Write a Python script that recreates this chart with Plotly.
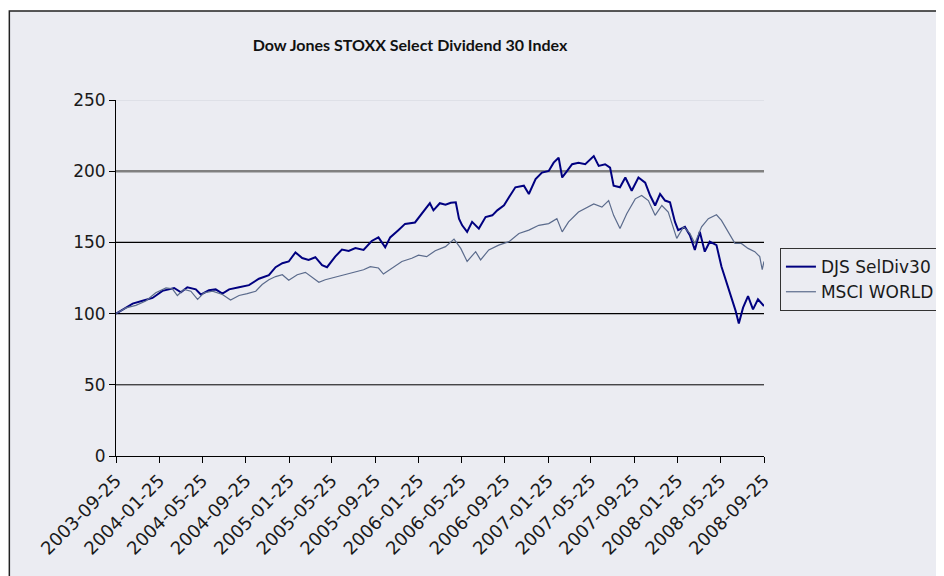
import pandas as pd
import plotly.graph_objects as go

# ---------------- data ----------------
start_date = "2003-09-25"

djs_days = [0, 19, 47, 75, 103, 131, 164, 183, 201, 225, 239, 262, 281, 300, 319, 347,
            375, 403, 431, 450, 469, 487, 506, 525, 543, 562, 581, 595, 618, 637, 656,
            675, 698, 721, 740, 759, 773, 796, 815, 843, 862, 885, 895, 913,
            929, 944, 958, 967, 976, 990, 1004, 1023, 1042, 1061, 1075, 1094, 1108,
            1126, 1150, 1164, 1183, 1201, 1220, 1234, 1248, 1258, 1272, 1286, 1304,
            1323, 1347, 1361, 1379, 1393, 1403, 1421, 1436, 1454, 1473, 1492, 1506,
            1520, 1534, 1548, 1562, 1576, 1585, 1604, 1618, 1632, 1646, 1660, 1674,
            1693, 1707, 1721, 1735, 1747, 1756, 1768, 1782, 1796, 1810, 1827]
djs_values = [100, 103, 107, 109, 111, 116, 118, 115, 118.5, 117, 113.4, 116.4, 117, 114,
              117, 118.5, 120, 124.5, 127, 132.6, 135.4, 136.6, 143, 139, 137.7, 139.6,
              134, 132.6, 140, 145, 144, 146, 144.7, 151, 153.5, 146.5, 153.5, 158.6,
              163, 164, 170, 177.5, 172.5, 177.5,
              176.4, 177.8, 178.2, 166.7, 162, 157.4, 164.4, 159.7, 167.8, 169, 172.5,
              176, 181.7, 188.7, 189.8, 184, 194.4, 199, 200.2, 206, 209.5, 195.6,
              200.2, 204.9, 206, 204.9, 210.6, 203.7, 204.9, 202.5, 189.8, 188.7,
              195.6, 186.3, 195.6, 192, 182.9, 175.9, 184, 179.4, 178.2, 164.4, 158.6,
              160.9, 155, 144.7, 157.4, 143.5, 150.5, 148.1, 133.1, 122.7, 111.1,
              101.9, 93, 104.2, 112.3, 103, 110, 105.3]

msci_days = [0, 28, 56, 84, 112, 141, 159, 173, 192, 211, 230, 248, 272, 300, 323, 347,
             370, 394, 412, 431, 450, 469, 487, 511, 534, 553, 572, 590, 618, 647, 675,
             698, 717, 740, 754, 778, 806, 834, 853, 876, 900,
             929, 953, 972, 990, 1014, 1028, 1051, 1079, 1108, 1136, 1164, 1192, 1220,
             1243, 1258, 1276, 1304, 1323, 1347, 1370, 1389, 1403, 1421, 1440, 1464,
             1482, 1501, 1520, 1539, 1557, 1581, 1600, 1618, 1632, 1651, 1670, 1693,
             1707, 1726, 1745, 1763, 1782, 1801, 1815, 1822, 1827]
msci_values = [100, 104, 105.8, 108.8, 114.6, 118, 117.4, 112.7, 117, 115.7, 110, 114.6,
               115.7, 113.4, 109.5, 112.7, 114, 115.7, 120.4, 123.8, 126, 127.3, 123.4,
               127.3, 129, 125.7, 122, 123.8, 125.7, 127.3, 129.6, 130.8, 133, 132,
               127.8, 132, 136.6, 138.9, 141, 140, 144.2,
               147, 152.3, 145.8, 136.6, 143.5, 137.7, 144.7, 148.1, 150.5, 156.3,
               158.6, 162, 163.2, 166.7, 157.4, 164.4, 171.3, 174, 177, 174.8, 179.4,
               169, 159.7, 170.1, 180.6, 182.9, 179.4, 169, 175.9, 171.3, 152.8, 160.9,
               156.3, 149.3, 160.9, 166.7, 169.4, 165.5, 157.4, 149.3, 149.3, 145.8,
               143.5, 140, 130.8, 136.6]

tick_dates = ["2003-09-25", "2004-01-25", "2004-05-25", "2004-09-25", "2005-01-25",
              "2005-05-25", "2005-09-25", "2006-01-25", "2006-05-25", "2006-09-25",
              "2007-01-25", "2007-05-25", "2007-09-25", "2008-01-25", "2008-05-25",
              "2008-09-25"]
y_ticks = [0, 50, 100, 150, 200, 250]
grid_colors = ["black", "black", "black", "black", "#808080", "#DADDE3"]
grid_widths = [1, 1, 1.2, 1.2, 2.5, 1.5]

series_names = ["DJS SelDiv30", "MSCI WORLD"]
title_text = "Dow Jones STOXX Select Dividend 30 Index"

# ---------------- build ----------------
t0 = pd.Timestamp(start_date)
djs_dates = [t0 + pd.Timedelta(days=d) for d in djs_days]
msci_dates = [t0 + pd.Timedelta(days=d) for d in msci_days]

FONT = "DejaVu Sans, Liberation Sans, sans-serif"

fig = go.Figure()
fig.add_trace(go.Scatter(x=djs_dates, y=djs_values, mode="lines", name=series_names[0],
                         line=dict(color="#000080", width=2)))
fig.add_trace(go.Scatter(x=msci_dates, y=msci_values, mode="lines", name=series_names[1],
                         line=dict(color="#5B6B8C", width=1.2)))

fig.update_layout(
    width=944, height=576,
    margin=dict(l=108, r=186, t=92, b=128),
    paper_bgcolor="white",
    plot_bgcolor="white",
    font=dict(family=FONT, size=17, color="#1a1a1a"),
    title=dict(text=title_text, x=402 / 944, xanchor="center", y=1 - 37 / 576,
               yanchor="middle", yref="container",
               font=dict(family="Lato, Roboto, sans-serif", size=16, color="#111111",
                         weight="bold")),
    showlegend=True,
    legend=dict(x=1.0246, xanchor="left", y=0.584, yanchor="top",
                bgcolor="#EBECF2", bordercolor="#333333", borderwidth=1,
                font=dict(family=FONT, size=17, color="#1a1a1a"),
                itemwidth=30, tracegroupgap=0),
    xaxis=dict(type="date", range=[tick_dates[0], tick_dates[-1]],
               tickmode="array", tickvals=tick_dates, ticktext=tick_dates,
               tickangle=-45, ticks="outside", ticklen=6, tickcolor="black",
               showline=True, linecolor="black", linewidth=1, showgrid=False,
               zeroline=False, tickfont=dict(family=FONT, size=18)),
    yaxis=dict(range=[0, 250], tickmode="array", tickvals=y_ticks,
               ticks="outside", ticklen=6, tickcolor="black",
               showline=True, linecolor="black", linewidth=1,
               showgrid=False, zeroline=False,
               tickfont=dict(family=FONT, size=17)),
    hovermode=False,
)

# chart-area background with dark border (drawn beneath the plot area)
fig.add_shape(type="rect", xref="paper", yref="paper",
              x0=-0.1646, x1=1.30, y0=-0.40, y1=1.25,
              fillcolor="#EBECF2", line=dict(color="#222222", width=1.5),
              layer="below")
# gridlines, styled as in the reference
for lvl, col, w in zip(y_ticks[1:], grid_colors[1:], grid_widths[1:]):
    fig.add_shape(type="line", xref="paper", yref="y", x0=0, x1=1, y0=lvl, y1=lvl,
                  line=dict(color=col, width=w), layer="below")

fig.write_html("out.html")
